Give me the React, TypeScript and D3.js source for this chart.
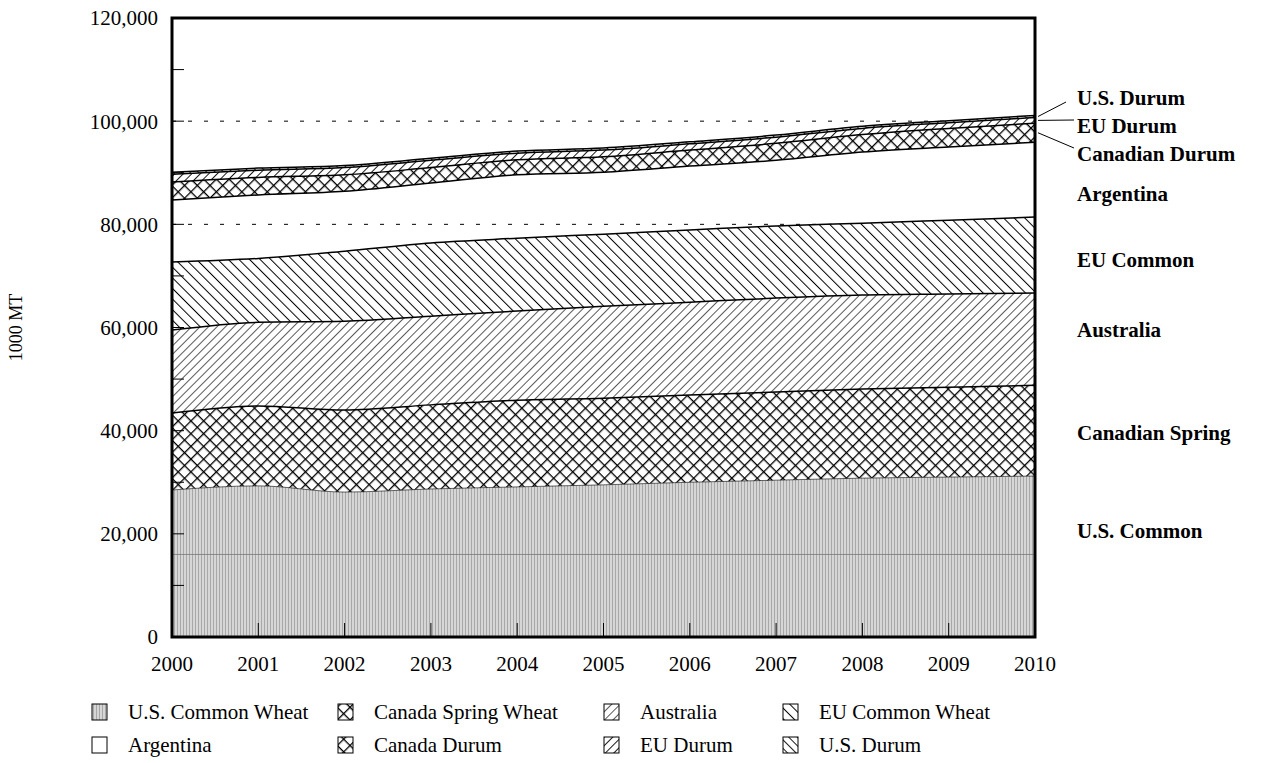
import React from 'react';
import * as d3 from 'd3';

// ---- data (1000 MT) ----
const years = [2000, 2001, 2002, 2003, 2004, 2005, 2006, 2007, 2008, 2009, 2010];
const usCommonWheat = [28500, 29300, 28100, 28700, 29100, 29500, 30000, 30400, 30800, 31000, 31200];
const canadaSpringWheat = [14900, 15500, 15900, 16300, 16800, 16800, 16900, 17100, 17300, 17400, 17600];
const australia = [16100, 16200, 17200, 17200, 17300, 17800, 18000, 18200, 18200, 18100, 17900];
const euCommonWheat = [13200, 12400, 13600, 14200, 14100, 14000, 14000, 14000, 13900, 14300, 14700];
const argentina = [12000, 12300, 11600, 11600, 12300, 12000, 12400, 12700, 13800, 14200, 14500];
const canadaDurum = [3500, 3400, 3200, 3000, 2900, 3000, 3100, 3300, 3400, 3600, 3700];
const euDurum = [1500, 1400, 1400, 1400, 1300, 1300, 1200, 1200, 1200, 1100, 1100];
const usDurum = [400, 400, 400, 400, 400, 400, 400, 400, 400, 400, 400];

const yTicks = [0, 20000, 40000, 60000, 80000, 100000, 120000];
const yMinorTicks = [10000, 20000, 30000, 40000, 50000, 60000, 70000, 80000, 90000, 100000, 110000];
const dashedGrid = [80000, 100000];
const faintLine = [16000];

const keys = ['usCommon', 'canSpring', 'australia', 'euCommon', 'argentina', 'canDurum', 'euDurum', 'usDurum'];
const seriesValues: Record<string, number[]> = {
  usCommon: usCommonWheat,
  canSpring: canadaSpringWheat,
  australia: australia,
  euCommon: euCommonWheat,
  argentina: argentina,
  canDurum: canadaDurum,
  euDurum: euDurum,
  usDurum: usDurum,
};
const legendNames = ['U.S. Common Wheat', 'Canada Spring Wheat', 'Australia', 'EU Common Wheat',
  'Argentina', 'Canada Durum', 'EU Durum', 'U.S. Durum'];
const legendKeys = ['usCommon', 'canSpring', 'australia', 'euCommon', 'argentina', 'canDurum', 'euDurum', 'usDurum'];
const rightLabels = ['U.S. Common', 'Canadian Spring', 'Australia', 'EU Common', 'Argentina', 'Canadian Durum', 'EU Durum', 'U.S. Durum'];

// ---- layout ----
const W = 1261, H = 763;
const L = 172, R = 1035, T = 18, B = 637;
const rightLabelY = [531, 433, 330, 260, 194, 154, 126, 98];
const legendColX = [92, 338, 604, 783];
const legendRowY = [712, 745];
const FONT = '"Liberation Serif", "Times New Roman", serif';

const fills: Record<string, string> = {
  usCommon: 'url(#pUsCommon)',
  canSpring: 'url(#pCross)',
  australia: 'url(#pAus)',
  euCommon: 'url(#pEuCommon)',
  argentina: '#ffffff',
  canDurum: 'url(#pCross)',
  euDurum: 'url(#pEuDurum)',
  usDurum: 'url(#pUsDurum)',
};

export default function App() {
  const x = d3.scaleLinear().domain([2000, 2010]).range([L, R]);
  const y = d3.scaleLinear().domain([0, 120000]).range([B, T]);

  const rows = years.map((yr, i) => {
    const o: any = { year: yr };
    keys.forEach(k => { o[k] = seriesValues[k][i]; });
    return o;
  });
  const stacked = d3.stack<any>().keys(keys)(rows);

  const area = d3.area<any>()
    .x(d => x(d.data.year))
    .y0(d => y(d[0]))
    .y1(d => y(d[1]))
    .curve(d3.curveMonotoneX);
  const topLine = d3.line<any>()
    .x(d => x(d.data.year))
    .y(d => y(d[1]))
    .curve(d3.curveMonotoneX);

  const last = years.length - 1;
  const fmt = d3.format(',');

  return (
    <svg width={W} height={H} style={{ position: 'absolute', left: 0, top: 0, background: '#fff' }}
      fontFamily={FONT}>
      <defs>
        <pattern id="pUsCommon" patternUnits="userSpaceOnUse" width={3} height={3}>
          <rect width={3} height={3} fill="#d6d6d6" />
          <rect x={0} y={0} width={1} height={3} fill="#a8a8a8" />
        </pattern>
        <pattern id="pCross" patternUnits="userSpaceOnUse" width={9} height={9} patternTransform="rotate(45)">
          <rect width={9} height={9} fill="#fff" />
          <line x1={0} y1={0} x2={0} y2={9} stroke="#000" strokeWidth={2.6} />
          <line x1={0} y1={0} x2={9} y2={0} stroke="#000" strokeWidth={2.6} />
        </pattern>
        <pattern id="pAus" patternUnits="userSpaceOnUse" width={6} height={6} patternTransform="rotate(45)">
          <rect width={6} height={6} fill="#fff" />
          <line x1={0} y1={0} x2={0} y2={6} stroke="#000" strokeWidth={1.3} />
        </pattern>
        <pattern id="pEuCommon" patternUnits="userSpaceOnUse" width={7.5} height={7.5} patternTransform="rotate(-45)">
          <rect width={7.5} height={7.5} fill="#fff" />
          <line x1={0} y1={0} x2={0} y2={7.5} stroke="#000" strokeWidth={2} />
        </pattern>
        <pattern id="pEuDurum" patternUnits="userSpaceOnUse" width={6} height={6} patternTransform="rotate(45)">
          <rect width={6} height={6} fill="#fff" />
          <line x1={0} y1={0} x2={0} y2={6} stroke="#000" strokeWidth={1.8} />
        </pattern>
        <pattern id="pUsDurum" patternUnits="userSpaceOnUse" width={6} height={6} patternTransform="rotate(-45)">
          <rect width={6} height={6} fill="#fff" />
          <line x1={0} y1={0} x2={0} y2={6} stroke="#000" strokeWidth={1.8} />
        </pattern>
        <clipPath id="plotClip">
          <rect x={L} y={T} width={R - L} height={B - T} />
        </clipPath>
      </defs>

      {/* dashed grid (behind areas; Argentina band is unfilled so it shows through) */}
      {dashedGrid.map(v => (
        <line key={v} x1={L} x2={R} y1={y(v)} y2={y(v)} stroke="#000" strokeWidth={1}
          strokeDasharray="4 12" />
      ))}

      {/* stacked areas */}
      <g clipPath="url(#plotClip)">
        {stacked.map(s => (
          <path key={s.key} d={area(s as any) || ''}
            fill={s.key === 'argentina' ? 'none' : fills[s.key]} stroke="none" />
        ))}
        {stacked.map(s => (
          <path key={'l' + s.key} d={topLine(s as any) || ''} fill="none" stroke="#000"
            strokeWidth={s.key === 'usCommon' ? 1 : 1.5} strokeOpacity={s.key === 'usCommon' ? 0.6 : 1} />
        ))}
        {faintLine.map(v => (
          <line key={v} x1={L} x2={R} y1={y(v)} y2={y(v)} stroke="#777" strokeWidth={0.8} />
        ))}
      </g>

      {/* ticks inside */}
      {yMinorTicks.map(v => (
        <line key={'yt' + v} x1={L} x2={L + 12} y1={y(v)} y2={y(v)} stroke="#000" strokeWidth={1} />
      ))}
      {years.slice(1, -1).map(v => (
        <line key={'xt' + v} x1={x(v)} x2={x(v)} y1={B} y2={B - 14} stroke="#000" strokeWidth={1} />
      ))}

      {/* frame */}
      <rect x={L} y={T} width={R - L} height={B - T} fill="none" stroke="#000" strokeWidth={3} />

      {/* y tick labels */}
      {yTicks.map(v => (
        <text key={'yl' + v} x={158} y={y(v)} dy="0.35em" textAnchor="end" fontSize={21}>{fmt(v)}</text>
      ))}
      {/* x tick labels */}
      {years.map(v => (
        <text key={'xl' + v} x={x(v)} y={664} dy="0.35em" textAnchor="middle" fontSize={21}>{v}</text>
      ))}

      {/* y axis title */}
      <text transform={`translate(16,${(T + B) / 2}) rotate(-90)`} textAnchor="middle" dy="0.35em" fontSize={18}>1000 MT</text>

      {/* right labels */}
      {stacked.map((s, i) => (
        <text key={'rl' + s.key} x={1077} y={rightLabelY[i]} dy="0.35em" fontSize={21} fontWeight="bold">
          {rightLabels[i]}
        </text>
      ))}
      {/* leader lines for durum labels */}
      {stacked.slice(5).map((s, j) => {
        const d = s[last];
        const y0 = y((d[0] + d[1]) / 2);
        const i = j + 5;
        const ly = rightLabelY[i];
        const ex = i === 7 ? 1066 : 1074;
        const ey = i === 7 ? ly + 4 : ly - 6;
        return <line key={'ll' + s.key} x1={R + 3} y1={y0} x2={ex} y2={ey} stroke="#000" strokeWidth={1} />;
      })}

      {/* legend */}
      {legendNames.map((name, i) => {
        const col = i % 4, row = Math.floor(i / 4);
        const sx = legendColX[col];
        const cy = legendRowY[row];
        return (
          <g key={'lg' + i}>
            <rect x={sx} y={cy - 8} width={15} height={16} fill={fills[legendKeys[i]]} stroke="#000" strokeWidth={1} />
            <text x={sx + 36} y={cy} dy="0.35em" fontSize={21}>{name}</text>
          </g>
        );
      })}
    </svg>
  );
}
